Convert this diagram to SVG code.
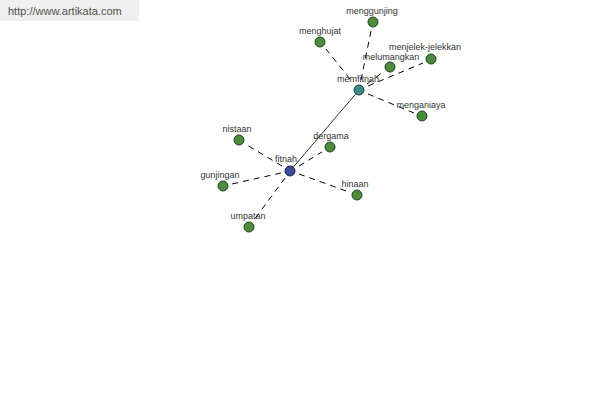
<svg xmlns="http://www.w3.org/2000/svg" width="600" height="400" viewBox="0 0 600 400">
<style>
.lbl{font-family:"Liberation Sans",Arial,sans-serif;font-size:9px;fill:#333;text-anchor:middle}
.d{stroke:#000;stroke-width:1;stroke-dasharray:6,5;fill:none}
.s{stroke:#000;stroke-width:0.8;fill:none}
.g{fill:#4c8c3c;stroke:#1f3f1f;stroke-width:1}
.b{fill:#3c4c9c;stroke:#1a1f4a;stroke-width:1}
.t{fill:#3c8c8c;stroke:#1a3f3f;stroke-width:1}
</style>
<rect x="0" y="0" width="139" height="21" fill="#efefef"/>
<text x="8" y="15" font-family="Liberation Sans,Arial,sans-serif" font-size="11" fill="#505050">http://www.artikata.com</text>
<g id="connectors">
<line class="s" x1="290" y1="171" x2="359" y2="90"/>
<line class="d" x1="361" y1="80" x2="371" y2="31"/>
<line class="d" x1="350" y1="79" x2="326" y2="49"/>
<line class="d" x1="368" y1="86" x2="423" y2="63"/>
<line class="d" x1="367" y1="84" x2="383" y2="72"/>
<line class="d" x1="368" y1="94" x2="414" y2="113"/>
<line class="d" x1="282" y1="166" x2="247" y2="145"/>
<line class="d" x1="299" y1="166" x2="322" y2="152"/>
<line class="d" x1="281" y1="173" x2="232" y2="184"/>
<line class="d" x1="299" y1="174" x2="349" y2="192"/>
<line class="d" x1="285" y1="178" x2="254" y2="220"/>
</g>
<g id="memfitnah"><circle class="t" cx="359" cy="90" r="5"/><text class="lbl" x="358" y="82">memfitnah</text></g>
<g id="fitnah"><circle class="b" cx="290" cy="171" r="5"/><text class="lbl" x="286" y="162">fitnah</text></g>
<g id="menggunjing"><circle class="g" cx="373" cy="22" r="5"/><text class="lbl" x="372" y="14">menggunjing</text></g>
<g id="menghujat"><circle class="g" cx="320" cy="42" r="5"/><text class="lbl" x="320" y="34">menghujat</text></g>
<g id="menjelek-jelekkan"><circle class="g" cx="431" cy="59" r="5"/><text class="lbl" x="425" y="50">menjelek-jelekkan</text></g>
<g id="melumangkan"><circle class="g" cx="390" cy="67" r="5"/><text class="lbl" x="391" y="60">melumangkan</text></g>
<g id="menganiaya"><circle class="g" cx="422" cy="116" r="5"/><text class="lbl" x="421" y="108">menganiaya</text></g>
<g id="nistaan"><circle class="g" cx="239" cy="140" r="5"/><text class="lbl" x="237" y="132">nistaan</text></g>
<g id="dergama"><circle class="g" cx="330" cy="147" r="5"/><text class="lbl" x="331" y="139">dergama</text></g>
<g id="gunjingan"><circle class="g" cx="223" cy="186" r="5"/><text class="lbl" x="220" y="178">gunjingan</text></g>
<g id="hinaan"><circle class="g" cx="357" cy="195" r="5"/><text class="lbl" x="355" y="187">hinaan</text></g>
<g id="umpatan"><circle class="g" cx="249" cy="227" r="5"/><text class="lbl" x="248" y="219">umpatan</text></g>
</svg>
